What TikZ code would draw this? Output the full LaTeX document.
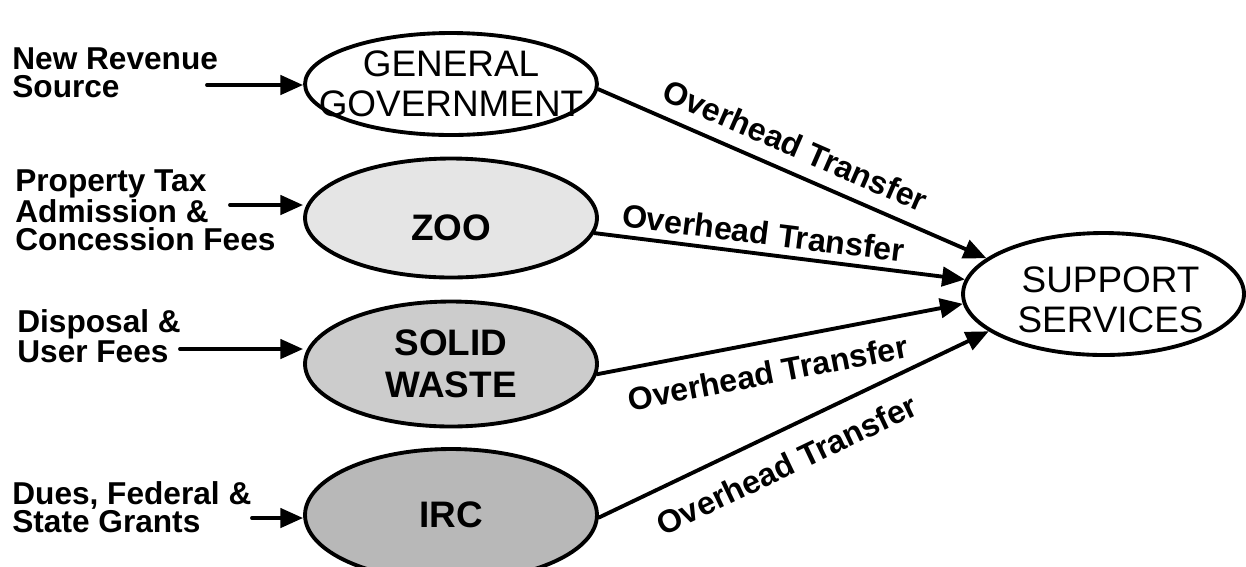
\documentclass[tikz,border=0pt]{standalone}
\usepackage{fontspec}
\setmainfont{Liberation Sans}
\usetikzlibrary{shapes.geometric,arrows.meta}
\begin{document}
\begin{tikzpicture}[x=0.02cm,y=-0.02cm]
	\tikzset{
	  oval/.style={ellipse, draw=black, line width=2.2pt, inner sep=0pt, minimum width=5.84cm},
	  ovaltext/.style={align=center, inner sep=0pt, font=\fontsize{21}{23}\selectfont},
	  ovalbold/.style={ovaltext, font=\bfseries\fontsize{21}{24}\selectfont},
	  src/.style={align=left, anchor=north west, inner sep=0pt, font=\bfseries\fontsize{18}{16}\selectfont},
	  arr/.style={line width=2.2pt, line cap=round, -{Triangle[length=13pt,width=11pt]}},
	  xfer/.style={sloped, inner sep=0pt, font=\bfseries\fontsize{18.3}{18}\selectfont}
	}
	\useasboundingbox (0,0) rectangle (1246,566);
	\clip (0,0) rectangle (1246,566);
	\node (gg) at (451,84) [oval, fill=white, minimum height=2.04cm, label={[ovaltext]center:{GENERAL\\GOVERNMENT}}] {};
	\node (zoo) at (451,218) [oval, fill=black!10, minimum height=2.38cm, label={[ovalbold, yshift=-5.5pt]center:{ZOO}}] {};
	\node (sw) at (451,364) [oval, fill=black!20, minimum height=2.5cm, label={[ovalbold]center:{SOLID\\WASTE}}] {};
	\node (irc) at (451,515) [oval, fill=black!28, minimum height=2.64cm, label={[ovalbold]center:{IRC}}] {};
	\node (ss) at (1103.5,294) [oval, fill=white, minimum width=5.62cm, minimum height=2.44cm, label={[ovaltext, xshift=4pt, yshift=-3.4pt]center:{SUPPORT\\SERVICES}}] {};
	\node (nrs) at (12,47) [src] {New Revenue\\Source};
	\node (ptx) at (15,169) [src] {Property Tax\\Admission \&\\Concession Fees};
	\node (dsp) at (17,309) [src] {Disposal \&\\User Fees};
	\node (dfs) at (12,481) [src] {Dues, Federal \&\\State Grants};
	\coordinate (in1) at (207,85);
	\coordinate (in2) at (230,205);
	\coordinate (in3) at (180,349);
	\coordinate (in4) at (252,518);
	\draw[arr] (in1) -- (in1 -| gg.west);
	\draw[arr] (in2) -- (in2 -| zoo.west);
	\draw[arr] (in3) -- (in3 -| sw.west);
	\draw[arr] (in4) -- (in4 -| irc.west);
	\draw[arr] (gg.-2) -- node[xfer, pos=0.48, above=7.6pt] {Overhead Transfer} (ss.163);
	\draw[arr] (zoo.-6) -- node[xfer, pos=0.449, above=4.2pt] {Overhead Transfer} (ss.174);
	\draw[arr] (sw.-4) -- node[xfer, pos=0.451, below=9.8pt] {Overhead Transfer} (ss.184);
	\draw[arr] (irc.-1) -- node[xfer, pos=0.445, below=11pt] {Overhead Transfer} (ss.198);
\end{tikzpicture}
\end{document}
